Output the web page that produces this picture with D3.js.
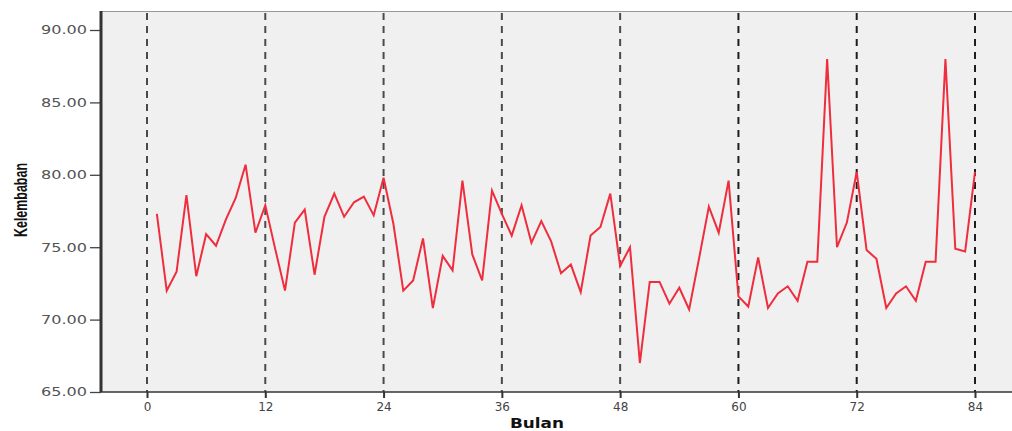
<!DOCTYPE html>
<html>
<head>
<meta charset="utf-8">
<script src="https://cdn.jsdelivr.net/npm/d3@7"></script>
<style>
  body { margin:0; background:#fff; }
  svg { display:block; }
</style>
</head>
<body>
<div id="chart"></div>
<script>
// months 1..84, kelembaban per bulan
var months = d3.range(1, 85);
var kelembaban = [
  77.3, 72.0, 73.3, 78.6, 73.0, 75.9, 75.1, 76.9, 78.4, 80.7, 76.0, 77.9,
  74.9, 72.0, 76.7, 77.6, 73.1, 77.1, 78.7, 77.1, 78.1, 78.5, 77.2, 79.8,
  76.6, 72.0, 72.7, 75.6, 70.8, 74.4, 73.4, 79.6, 74.5, 72.7, 78.9, 77.3,
  75.8, 77.9, 75.3, 76.8, 75.4, 73.2, 73.8, 71.9, 75.8, 76.4, 78.7, 73.7,
  75.0, 67.0, 72.6, 72.6, 71.1, 72.2, 70.7, 74.2, 77.8, 76.0, 79.6, 71.6,
  70.9, 74.3, 70.8, 71.8, 72.3, 71.3, 74.0, 74.0, 88.0, 75.0, 76.7, 80.2,
  74.8, 74.2, 70.8, 71.8, 72.3, 71.3, 74.0, 74.0, 88.0, 74.9, 74.7, 80.2
];
var yTicks = [65, 70, 75, 80, 85, 90];
var xTicks = [0, 12, 24, 36, 48, 60, 72, 84];

var width = 1012, height = 431;
var plot = {left:101, top:11, right:1012, bottom:392};

var svg = d3.select("#chart").append("svg")
  .attr("width", width)
  .attr("height", height);

var x = d3.scaleLinear().domain([0, 84]).range([147, 975]);
var y = d3.scaleLinear().domain([65, 90]).range([392, 30]);

// plot background
svg.append("rect")
  .attr("x", plot.left)
  .attr("y", plot.top)
  .attr("width", plot.right - plot.left)
  .attr("height", plot.bottom - plot.top)
  .attr("fill", "#f0f0f0");

svg.append("line")
  .attr("x1", plot.left).attr("x2", plot.right)
  .attr("y1", plot.top + 0.5).attr("y2", plot.top + 0.5)
  .attr("stroke", "#999").attr("stroke-width", 1);

// yearly reference lines
svg.append("g").selectAll("line")
  .data(xTicks)
  .join("line")
  .attr("x1", function(d){ return x(d); })
  .attr("x2", function(d){ return x(d); })
  .attr("y1", plot.top + 2)
  .attr("y2", plot.bottom)
  .attr("stroke", function(d){ return d >= 60 ? "#1e1e1e" : "#4a4a4a"; })
  .attr("stroke-width", 2)
  .attr("stroke-dasharray", "7,6");

// series
var line = d3.line()
  .x(function(d, i){ return x(months[i]); })
  .y(function(d){ return y(d); });

svg.append("path")
  .datum(kelembaban)
  .attr("fill", "none")
  .attr("stroke", "#ef2d3d")
  .attr("stroke-width", 2)
  .attr("stroke-linejoin", "miter")
  .attr("d", line);

// axes
var yAxis = d3.axisLeft(y)
  .tickValues(yTicks)
  .tickFormat(d3.format(".2f"))
  .tickSize(11)
  .tickPadding(3);

var gy = svg.append("g")
  .attr("transform", "translate(" + plot.left + ",0)")
  .call(yAxis);
gy.select(".domain").remove();
gy.selectAll(".tick line").attr("stroke", "#444").attr("stroke-width", 1.3);
gy.selectAll(".tick text")
  .attr("fill", "#555")
  .attr("font-family", "DejaVu Sans")
  .attr("font-size", 12)
  .attr("textLength", 46)
  .attr("lengthAdjust", "spacingAndGlyphs");

svg.append("line")
  .attr("x1", plot.left).attr("x2", plot.left)
  .attr("y1", plot.top).attr("y2", plot.bottom)
  .attr("stroke", "#333").attr("stroke-width", 3);

var xAxis = d3.axisBottom(x)
  .tickValues(xTicks)
  .tickFormat(d3.format("d"))
  .tickSize(6)
  .tickPadding(4);

var gx = svg.append("g")
  .attr("transform", "translate(0," + plot.bottom + ")")
  .call(xAxis);
gx.select(".domain").remove();
gx.selectAll(".tick line").attr("stroke", "#333").attr("stroke-width", 2);
gx.selectAll(".tick text")
  .attr("fill", "#444")
  .attr("font-family", "DejaVu Sans")
  .attr("font-size", 12);

svg.append("line")
  .attr("x1", plot.left).attr("x2", plot.right)
  .attr("y1", plot.bottom).attr("y2", plot.bottom)
  .attr("stroke", "#333").attr("stroke-width", 1.5);

// titles
svg.append("text")
  .attr("x", 537).attr("y", 428)
  .attr("text-anchor", "middle")
  .attr("font-family", "DejaVu Sans")
  .attr("font-weight", "bold")
  .attr("font-size", 14)
  .attr("fill", "#111")
  .attr("textLength", 54)
  .attr("lengthAdjust", "spacingAndGlyphs")
  .text("Bulan");

svg.append("text")
  .attr("transform", "translate(27,200) rotate(-90)")
  .attr("text-anchor", "middle")
  .attr("font-family", "Liberation Sans Narrow, Liberation Sans, sans-serif")
  .attr("font-weight", "bold")
  .attr("font-size", 19)
  .attr("fill", "#111")
  .attr("textLength", 74)
  .attr("lengthAdjust", "spacingAndGlyphs")
  .text("Kelembaban");
</script>
</body>
</html>
